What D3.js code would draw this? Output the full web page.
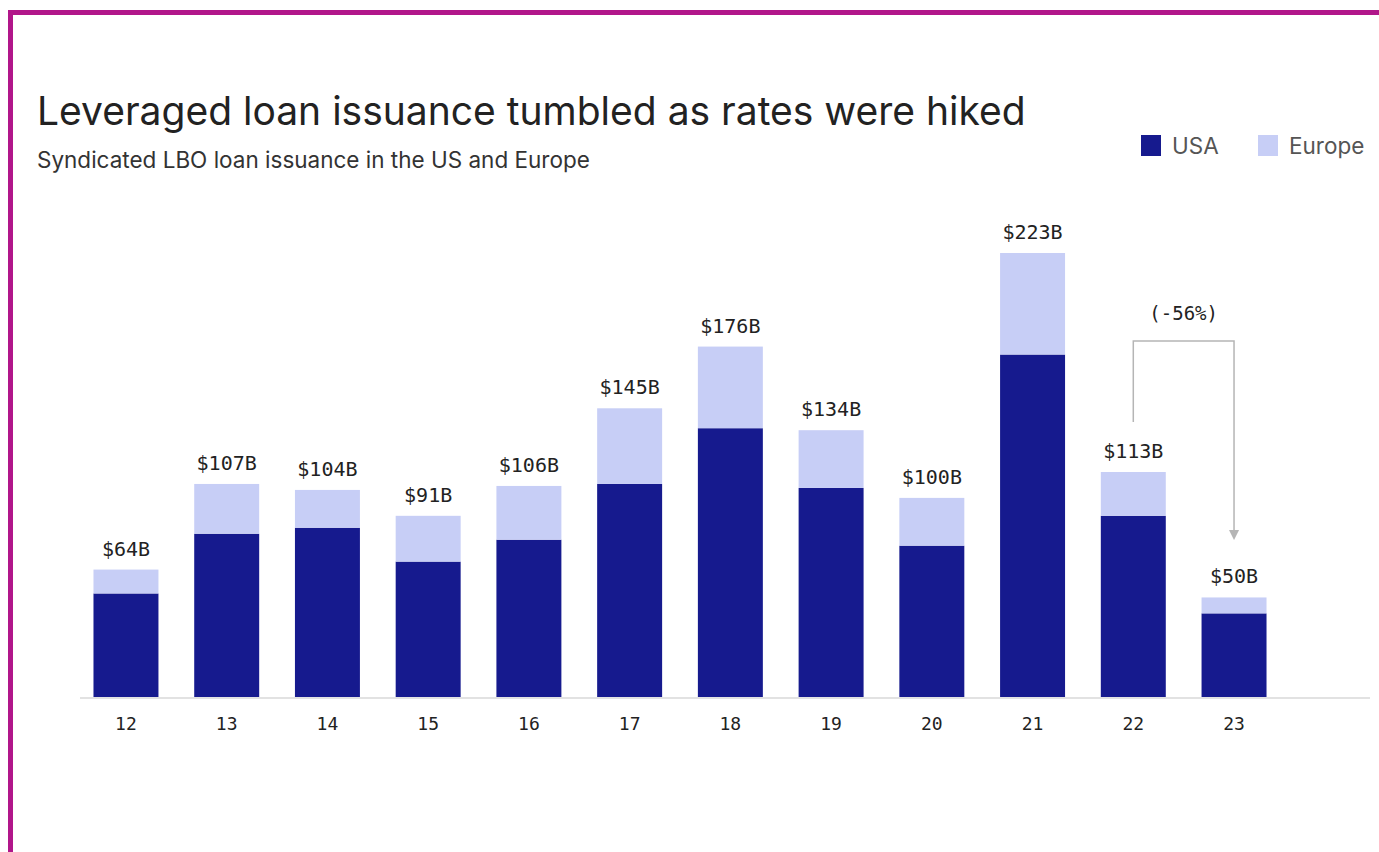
<!DOCTYPE html>
<html>
<head>
<meta charset="utf-8">
<script src="https://cdnjs.cloudflare.com/ajax/libs/d3/7.8.5/d3.min.js"></script>
<style>
  body { margin: 0; background: #fff; }
  svg { display: block; }
</style>
</head>
<body>
<div id="chart"></div>
<script>
// data ($B)
const years = ["12", "13", "14", "15", "16", "17", "18", "19", "20", "21", "22", "23"];
const usa = [52, 82, 85, 68, 79, 107, 135, 105, 76, 172, 91, 42];
const europe = [12, 25, 19, 23, 27, 38, 41, 29, 24, 51, 22, 8];
const totalLabels = ["$64B", "$107B", "$104B", "$91B", "$106B", "$145B", "$176B", "$134B", "$100B", "$223B", "$113B", "$50B"];
const seriesNames = ["USA", "Europe"];

const W = 1379, H = 852;
const baseY = 697;
const colors = { USA: "#161a8e", Europe: "#c7cef6" };
const monoFont = "'DejaVu Sans Mono', 'Liberation Mono', monospace";
const sansFont = "Inter, 'Liberation Sans', Arial, sans-serif";

const svg = d3.select("#chart")
    .append("svg")
    .attr("width", W)
    .attr("height", H);

svg.append("rect").attr("width", W).attr("height", H).attr("fill", "#fff");

// magenta frame (top + left)
svg.append("rect").attr("x", 8).attr("y", 10).attr("width", W - 8).attr("height", 5).attr("fill", "#b1168a");
svg.append("rect").attr("x", 8).attr("y", 10).attr("width", 5).attr("height", H - 10).attr("fill", "#b1168a");

// title + subtitle
svg.append("text")
    .attr("x", 37).attr("y", 125)
    .attr("font-family", sansFont)
    .attr("font-size", 39)
    .attr("fill", "#222")
    .text("Leveraged loan issuance tumbled as rates were hiked");

svg.append("text")
    .attr("x", 37).attr("y", 168)
    .attr("font-family", sansFont)
    .attr("font-size", 22.5)
    .attr("fill", "#333")
    .text("Syndicated LBO loan issuance in the US and Europe");

// scales
const x = d3.scaleBand()
    .domain(years)
    .range([75.6, 1284.4])
    .paddingInner(0.355)
    .paddingOuter(0.1775);

const y = d3.scaleLinear()
    .domain([0, 223])
    .range([baseY, 253]);

const rows = years.map((yr, i) => ({ year: yr, USA: usa[i], Europe: europe[i], label: totalLabels[i] }));
const stacked = d3.stack().keys(seriesNames)(rows);

// baseline
svg.append("line")
    .attr("x1", 80).attr("x2", 1370)
    .attr("y1", baseY + 1).attr("y2", baseY + 1)
    .attr("stroke", "#e2e2e2")
    .attr("stroke-width", 2);

// bars
svg.append("g")
    .selectAll("g")
    .data(stacked)
    .join("g")
    .attr("fill", d => colors[d.key])
    .selectAll("rect")
    .data(d => d)
    .join("rect")
    .attr("x", d => x(d.data.year))
    .attr("width", x.bandwidth())
    .attr("y", d => y(d[1]))
    .attr("height", d => y(d[0]) - y(d[1]));

// total labels
svg.append("g")
    .selectAll("text")
    .data(rows)
    .join("text")
    .attr("x", d => x(d.year) + x.bandwidth() / 2)
    .attr("y", d => y(d.USA + d.Europe) - 14)
    .attr("text-anchor", "middle")
    .attr("font-family", monoFont)
    .attr("font-size", 20)
    .attr("fill", "#222")
    .text(d => d.label);

// x axis labels
const xAxis = svg.append("g")
    .attr("transform", `translate(0,${baseY})`)
    .call(d3.axisBottom(x).tickSize(0).tickPadding(20));
xAxis.select(".domain").remove();
xAxis.selectAll("text")
    .attr("font-family", monoFont)
    .attr("font-size", 18)
    .attr("fill", "#222");

// -56% annotation bracket
const cx22 = x("22") + x.bandwidth() / 2;
const cx23 = x("23") + x.bandwidth() / 2;
const topY = 341;
svg.append("path")
    .attr("d", `M${cx22},${422} V${topY} H${cx23} V${532}`)
    .attr("fill", "none")
    .attr("stroke", "#b5b5b5")
    .attr("stroke-width", 1.5);
svg.append("path")
    .attr("d", `M${cx23 - 5},${530} L${cx23 + 5},${530} L${cx23},${540} Z`)
    .attr("fill", "#b5b5b5");
svg.append("text")
    .attr("x", (cx22 + cx23) / 2)
    .attr("y", 320)
    .attr("text-anchor", "middle")
    .attr("font-family", monoFont)
    .attr("font-size", 19)
    .attr("fill", "#222")
    .text("(-56%)");

// legend
const legendItems = [
    { name: "USA", x: 1141 },
    { name: "Europe", x: 1258 }
];
const legend = svg.append("g")
    .selectAll("g")
    .data(legendItems)
    .join("g")
    .attr("transform", d => `translate(${d.x},135)`);
legend.append("rect")
    .attr("width", 20).attr("height", 21)
    .attr("fill", d => colors[d.name]);
legend.append("text")
    .attr("x", 31).attr("y", 19)
    .attr("font-family", sansFont)
    .attr("font-size", 22.5)
    .attr("fill", "#555")
    .text(d => d.name);
</script>
</body>
</html>
